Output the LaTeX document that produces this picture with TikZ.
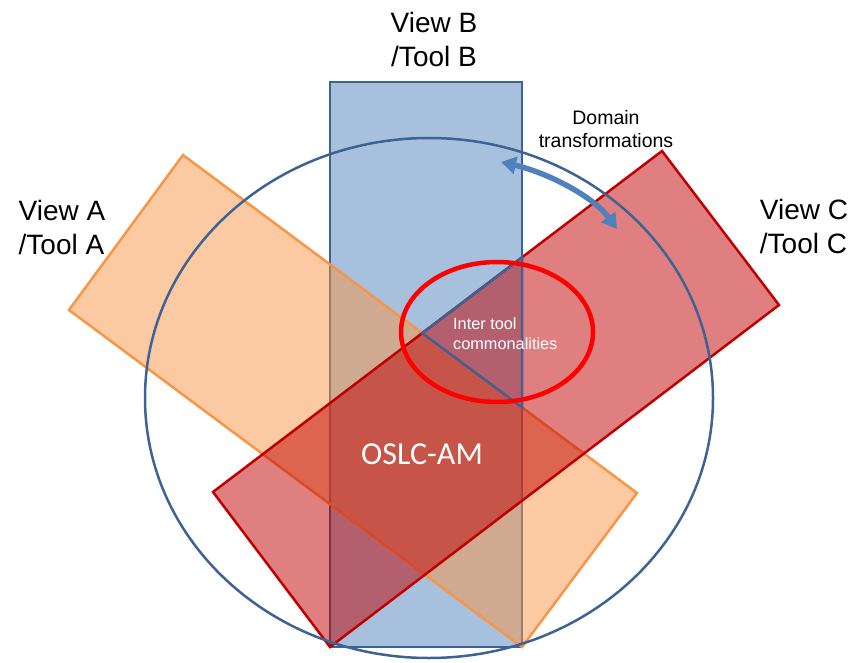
\documentclass[tikz,border=0pt]{standalone}
\usepackage{fontspec}
\setmainfont{Liberation Sans}
\newfontfamily\oslcfont{Carlito}
\usetikzlibrary{arrows.meta}

\definecolor{viewblue}{RGB}{79,129,189}
\definecolor{viewblueline}{RGB}{62,98,148}
\definecolor{vieworange}{RGB}{247,150,70}
\definecolor{viewred}{RGB}{192,0,0}
\definecolor{ringred}{RGB}{255,0,0}

\tikzset{
  viewlabel/.style={font=\fontsize{28}{34}\selectfont, align=center, inner sep=0pt},
  smalllabel/.style={font=\fontsize{19.5}{23}\selectfont, align=center, inner sep=0pt},
}

\begin{document}
\begin{tikzpicture}[x=1pt, y=-1pt]
\useasboundingbox (0,0) rectangle (859,663);

% corners of the three tool rectangles
\coordinate (Bnw) at (330,82);
\coordinate (Bne) at (522,82);
\coordinate (Bse) at (522,647);
\coordinate (Bsw) at (330,647);

\coordinate (At) at (183,155);
\coordinate (Al) at (69,310);
\coordinate (Ab) at (522,647);
\coordinate (Ar) at (637,493);

\coordinate (Ct) at (662,151);
\coordinate (Cr) at (779,305);
\coordinate (Cb) at (330,647);
\coordinate (Cl) at (213,492);

% View B (opaque base layer)
\fill[viewblue!50!white] (Bnw) rectangle (Bse);
\draw[draw=viewblueline, line width=2.5pt] (Bnw) rectangle (Bse);

% View A and View C, translucent on top
\fill[vieworange, opacity=0.5] (At) -- (Al) -- (Ab) -- (Ar) -- cycle;
\draw[vieworange, line width=2.5pt, line join=miter] (At) -- (Al) -- (Ab) -- (Ar) -- cycle;

\fill[viewred, opacity=0.5] (Ct) -- (Cr) -- (Cb) -- (Cl) -- cycle;
\draw[viewred, line width=2.5pt, line join=miter] (Ct) -- (Cr) -- (Cb) -- (Cl) -- cycle;

% region shared by B and C only, outlined
\coordinate (T1) at (intersection of Ct--Cl and Bne--Bse);
\coordinate (T2) at (intersection of Ct--Cl and At--Ar);
\coordinate (T3) at (intersection of At--Ar and Bne--Bse);
\draw[viewblueline, line width=2.5pt, line join=miter] (T1) -- (T2) -- (T3) -- cycle;

% outer ring
\draw[viewblueline, line width=2.5pt] (429,398) ellipse [x radius=284, y radius=260];

% commonalities ring
\draw[ringred, line width=4.5pt] (497,332) ellipse [x radius=96, y radius=70];

% labels
\node[viewlabel] (lblB) at (434,39) {View B\\/Tool B};
\node[viewlabel, align=left] (lblA) at (62,227) {View A\\/Tool A};
\node[viewlabel, align=left] (lblC) at (804,226) {View C\\/Tool C};
\node[smalllabel] (lblDom) at (606,129) {Domain\\transformations};
\node[font=\fontsize{16.3}{20}\selectfont, align=left, inner sep=0pt, text=white, anchor=west] (lblInter) at (453,334) {Inter tool\\commonalities};
\node[font=\oslcfont\fontsize{32}{36}\selectfont, text=white, inner sep=0pt] (lblOslc) at (422,454) {OSLC-AM};

% domain transformation arrow
\coordinate (arrS) at (501,162);
\coordinate (arrE) at (617,229);
\draw[viewblue, line width=5.5pt, {Triangle[length=15pt, width=17pt]}-{Triangle[length=15pt, width=17pt]}]
  (arrS) .. controls (545,172) and (592,195) .. (arrE);
\end{tikzpicture}
\end{document}
